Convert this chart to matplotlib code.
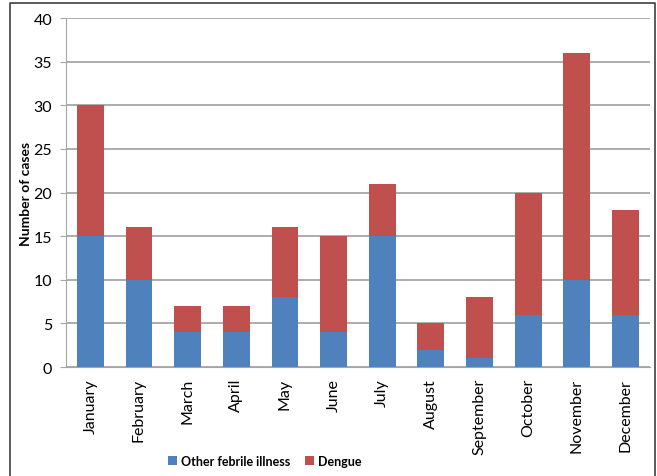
import matplotlib
matplotlib.use("Agg")
import matplotlib.pyplot as plt
from matplotlib.lines import Line2D
import numpy as np

months = ["January", "February", "March", "April", "May", "June",
          "July", "August", "September", "October", "November", "December"]
other_febrile = [15, 10, 4, 4, 8, 4, 15, 2, 1, 6, 10, 6]
dengue = [15, 6, 3, 3, 8, 11, 6, 3, 7, 14, 26, 12]

plt.rcParams["font.family"] = ["Lato", "DejaVu Sans"]

fig = plt.figure(figsize=(6.57, 4.77), dpi=100)
ax = fig.add_axes([0.1005, 0.2285, 0.8885, 0.7315])

x = np.arange(len(months))
ax.bar(x, other_febrile, width=0.55, color="#4F81BD", label="Other febrile illness", zorder=3)
ax.bar(x, dengue, width=0.55, bottom=other_febrile, color="#C0504D", label="Dengue", zorder=3)

ax.set_xlim(-0.5, len(months) - 0.5)
ax.set_ylim(0, 40)
ax.set_yticks(range(0, 41, 5))
ax.set_xticks(x)
ax.set_xticklabels(months, rotation=90, fontsize=11.5)
ax.tick_params(axis="y", labelsize=11.5, length=4, color="#A6A6A6", pad=6)
ax.tick_params(axis="x", length=0, pad=8)
ax.grid(axis="y", color="#A6A6A6", linewidth=1.3, zorder=0)
for side in ["top", "right"]:
    ax.spines[side].set_visible(False)
ax.spines["left"].set_color("#A6A6A6")
ax.spines["bottom"].set_color("#A6A6A6")
ax.set_ylabel("Number of cases", fontsize=10, fontweight="bold", labelpad=1)

leg = fig.legend(loc="center", bbox_to_anchor=(0.403, 0.032), ncol=2, frameon=False,
                 handlelength=0.7, handleheight=0.7, handletextpad=0.3, columnspacing=1.2,
                 prop={"size": 9, "weight": "bold"})

# outer frame
fig.add_artist(Line2D([0.0155, 0.0155, 0.997, 0.997], [0.0, 0.992, 0.992, 0.0],
                      transform=fig.transFigure, color="#404040", linewidth=1.2))

fig.savefig("out.png", dpi=100)
